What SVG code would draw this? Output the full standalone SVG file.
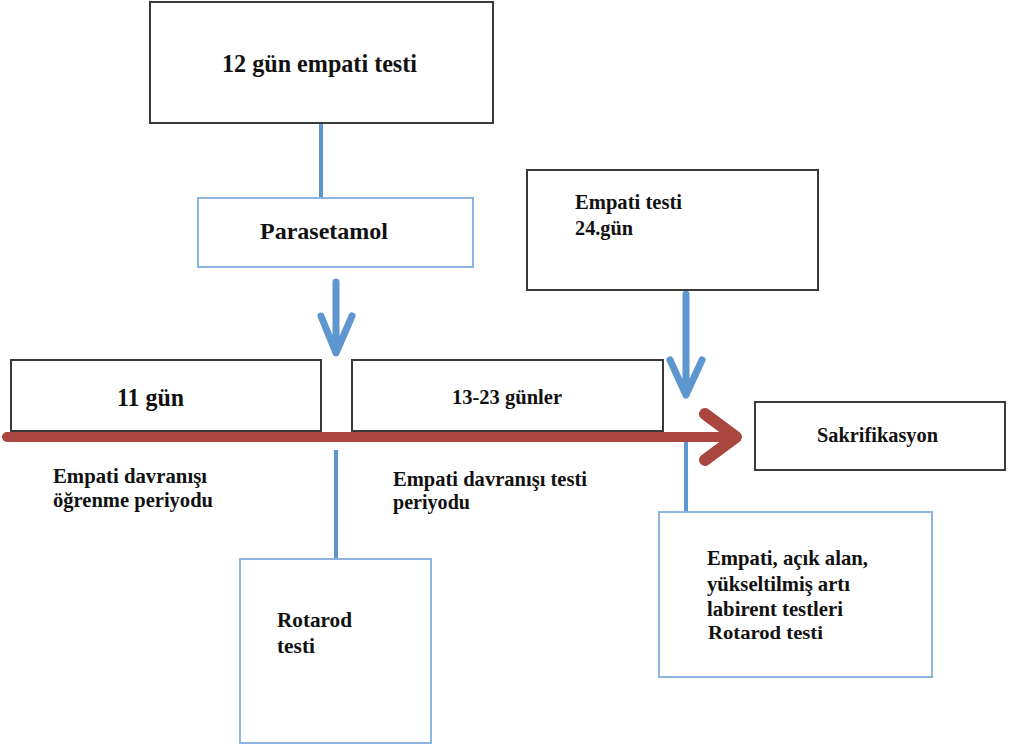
<svg xmlns="http://www.w3.org/2000/svg" width="1010" height="751" viewBox="0 0 1010 751">
<defs>
<style>
text{font-family:'Liberation Serif','Times New Roman',serif;font-weight:bold;fill:#111}
.bk{fill:#fff;stroke:#3a3a3a;stroke-width:2}
.bl{fill:#fff;stroke:#8db4e2;stroke-width:2}
.ln{stroke:#5e96cf;stroke-width:4;fill:none}
.ar{stroke:#5e96cf;stroke-width:7;fill:none;stroke-linecap:round;stroke-linejoin:round}
.red{stroke:#a9463f;fill:none;stroke-linecap:round;stroke-linejoin:round}
</style>
</defs>
<g id="connectors">
<line class="ln" x1="321" y1="123" x2="321" y2="198"/>
<path class="ar" d="M336 282 V352 M321 316 L336 353 L352 316"/>
<path class="ar" d="M686 294 V394 M670 360 L686 395 L702 360"/>
<line class="ln" x1="336" y1="450" x2="336" y2="559"/>
<line class="ln" x1="686" y1="438" x2="686" y2="512"/>
</g>
<g id="n1"><rect class="bk" x="150" y="2" width="343" height="121"/><text x="222" y="72" font-size="25" textLength="195" lengthAdjust="spacingAndGlyphs">12 gün empati testi</text></g>
<g id="n2"><rect class="bl" x="198" y="198" width="275" height="69"/><text x="260" y="239" font-size="24" textLength="128" lengthAdjust="spacingAndGlyphs">Parasetamol</text></g>
<g id="n3"><rect class="bk" x="527" y="170" width="291" height="120"/><text x="575" y="209" font-size="21" textLength="107" lengthAdjust="spacingAndGlyphs">Empati testi</text><text x="575" y="235" font-size="21" textLength="58" lengthAdjust="spacingAndGlyphs">24.gün</text></g>
<g id="n4"><rect class="bk" x="11" y="360" width="310" height="71"/><text x="117" y="406" font-size="26" textLength="67" lengthAdjust="spacingAndGlyphs">11 gün</text></g>
<g id="n5"><rect class="bk" x="352" y="360" width="311" height="71"/><text x="452" y="404" font-size="21" textLength="110" lengthAdjust="spacingAndGlyphs">13-23 günler</text></g>
<g id="timeline">
<path class="red" d="M7 437 H734" stroke-width="10"/>
<path class="red" d="M705 414 L736 437 L705 460" stroke-width="12"/>
</g>
<g id="n6"><rect class="bk" x="755" y="402" width="250" height="68"/><text x="817" y="442" font-size="21" textLength="121" lengthAdjust="spacingAndGlyphs">Sakrifikasyon</text></g>
<g id="l1"><text x="53" y="483" font-size="21" textLength="154" lengthAdjust="spacingAndGlyphs">Empati davranışı</text><text x="53" y="507" font-size="21" textLength="160" lengthAdjust="spacingAndGlyphs">öğrenme periyodu</text></g>
<g id="l2"><text x="393" y="486" font-size="21" textLength="194" lengthAdjust="spacingAndGlyphs">Empati davranışı testi</text><text x="393" y="509" font-size="21" textLength="77" lengthAdjust="spacingAndGlyphs">periyodu</text></g>
<g id="n7"><rect class="bl" x="240" y="559" width="191" height="184"/><text x="277" y="627" font-size="21" textLength="75" lengthAdjust="spacingAndGlyphs">Rotarod</text><text x="277" y="653" font-size="21" textLength="38" lengthAdjust="spacingAndGlyphs">testi</text></g>
<g id="n8"><rect class="bl" x="659" y="512" width="273" height="165"/><text x="707" y="565" font-size="21" textLength="161" lengthAdjust="spacingAndGlyphs">Empati, açık alan,</text><text x="707" y="591" font-size="21" textLength="143" lengthAdjust="spacingAndGlyphs">yükseltilmiş artı</text><text x="707" y="616" font-size="20" textLength="136" lengthAdjust="spacingAndGlyphs">labirent testleri</text><text x="708" y="639" font-size="19" textLength="115" lengthAdjust="spacingAndGlyphs">Rotarod testi</text></g>
</svg>
